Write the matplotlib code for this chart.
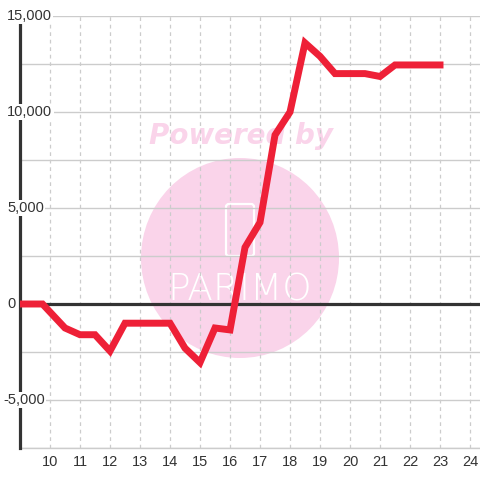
import matplotlib
matplotlib.use('Agg')
import matplotlib.pyplot as plt
import matplotlib.patches as mpatches
import matplotlib.transforms as mtransforms

# data
hours = [9.0, 9.75, 10.5, 11.0, 11.5, 12.0, 12.5, 14.0, 14.5, 15.0, 15.5, 16.0,
         16.5, 17.0, 17.5, 18.0, 18.5, 19.0, 19.5, 20.5, 21.0, 21.5, 23.0]
values = [0, 0, -1250, -1600, -1600, -2450, -1000, -1000, -2300, -3050, -1250, -1350,
          2950, 4250, 8800, 10000, 13600, 12900, 12000, 12000, 11850, 12450, 12450]
x_ticks = list(range(10, 25))
y_ticks = [-5000, 0, 5000, 10000, 15000]
y_grid = [-7500, -5000, -2500, 2500, 5000, 7500, 10000, 12500, 15000]

W = 480
fig = plt.figure(figsize=(4.8, 4.8), dpi=100)
fig.patch.set_facecolor('white')
ax = fig.add_axes([20 / W, 32 / W, 460 / W, 432 / W])
ax.set_xlim(9, 24.333)
ax.set_ylim(-7500, 15000)

for s in ['top', 'right']:
    ax.spines[s].set_visible(False)
ax.spines['bottom'].set_color('#cccccc')
ax.spines['bottom'].set_linewidth(1)
ax.spines['left'].set_color('#333333')
ax.spines['left'].set_linewidth(2.3)
ax.spines['left'].set_zorder(3)
ax.spines['left'].set_bounds(-7500, 14600)

# watermark (pixel positions measured from the top-left), below the grid
ff = fig.transFigure
circ = mpatches.Ellipse((240 / W, 1 - 258 / W), 198 / W, 200 / W,
                        transform=ff, color='#fad4ea', zorder=0.2, lw=0)
ax.add_patch(circ)
ax.text(241 / W, 1 - 136 / W, 'Powered by', color='#fad4ea', fontsize=20,
        fontweight='bold', fontstyle='italic', ha='center', va='center',
        family='DejaVu Sans', transform=ff, zorder=0.2)
logo = mpatches.FancyBboxPatch((226 / W, 1 - 256 / W), 28 / W, 52 / W,
                               boxstyle='round,pad=0,rounding_size=0.006',
                               transform=ff, fill=False,
                               edgecolor='white', lw=1.6, zorder=0.3)
ax.add_patch(logo)
ax.text(240 / W, 1 - 290 / W, 'PARIMO', color='white', fontsize=27,
        fontweight='light', ha='center', va='center', family='DejaVu Sans',
        transform=ff, zorder=0.3)

# grid
ax.set_yticks(y_grid)
ax.set_yticklabels([])
ax.tick_params(axis='y', length=0)
ax.set_xticks(x_ticks)
ax.tick_params(axis='x', length=0, pad=5, labelsize=10.5, labelcolor='#333333')
ax.grid(axis='y', color='#cccccc', lw=1)
ax.grid(axis='x', color='#cccccc', lw=0.9, ls=(0, (3, 3)))
ax.axhline(0, color='#333333', lw=2.3, zorder=2)

for lab in ax.get_xticklabels():
    lab.set_family('Liberation Sans')

# y labels sit over the spine with a white background
tr = mtransforms.blended_transform_factory(ff, ax.transData)
for v in y_ticks:
    xpos = (3 if v < 0 else 7) / W
    ax.text(xpos, v, f'{v:,}', transform=tr, ha='left',
            va='center', fontsize=10.5, color='#333333', family='Liberation Sans',
            bbox=dict(facecolor='white', edgecolor='none', pad=1),
            zorder=4, clip_on=False)

ax.plot(hours, values, color='#ee2037', lw=5, solid_joinstyle='miter', zorder=5)

fig.savefig('out.png', dpi=100)
